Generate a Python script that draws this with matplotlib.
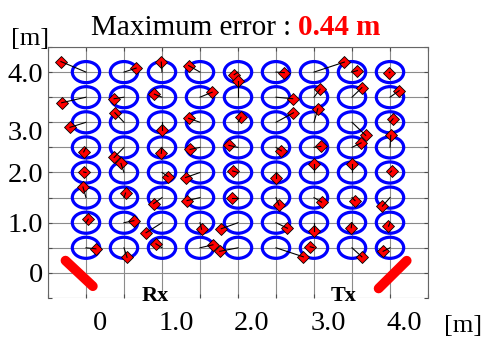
import numpy as np
import matplotlib
matplotlib.use('Agg')
import matplotlib.pyplot as plt
from matplotlib.patches import Ellipse
from matplotlib.transforms import ScaledTranslation

plt.rcParams['font.family'] = 'serif'
plt.rcParams['font.serif'] = ['Liberation Serif', 'Times New Roman', 'DejaVu Serif']

# reference grid (true positions), columns along x and rows along y [m]
grid_x = [0.0, 0.5, 1.0, 1.5, 2.0, 2.5, 3.0, 3.5, 4.0]
grid_y = [4.0, 3.5, 3.0, 2.5, 2.0, 1.5, 1.0, 0.5]

# estimated positions, one list per row (top row first), left to right
est_x = [
    [-0.33, 0.66, 0.99, 1.35, 1.95, 2.61, 3.40, 3.57, 3.99],
    [-0.32, 0.37, 0.90, 1.66, 2.00, 2.72, 3.08, 3.63, 4.12],
    [-0.21, 0.38, 1.00, 1.35, 2.04, 2.73, 3.05, 3.68, 4.04],
    [-0.03, 0.37, 0.99, 1.37, 1.88, 2.57, 3.09, 3.62, 4.01],
    [-0.03, 0.46, 1.08, 1.31, 1.93, 2.50, 3.00, 3.50, 4.02],
    [-0.04, 0.52, 0.89, 1.33, 1.92, 2.54, 3.10, 3.54, 3.90],
    [0.03, 0.63, 0.79, 1.52, 1.78, 2.65, 3.00, 3.49, 3.98],
    [0.13, 0.54, 0.92, 1.67, 1.76, 2.86, 2.95, 3.63, 3.91],
]
est_y = [
    [4.21, 4.08, 4.20, 4.13, 3.95, 3.99, 4.20, 4.03, 3.99],
    [3.39, 3.47, 3.56, 3.60, 3.83, 3.47, 3.66, 3.69, 3.63],
    [2.90, 3.19, 2.85, 3.08, 3.10, 3.19, 3.27, 2.74, 3.07],
    [2.41, 2.30, 2.38, 2.46, 2.54, 2.43, 2.52, 2.59, 2.74],
    [2.01, 2.18, 1.92, 1.90, 2.03, 1.90, 2.17, 2.17, 2.03],
    [1.71, 1.59, 1.38, 1.44, 1.50, 1.35, 1.41, 1.44, 1.33],
    [1.07, 1.04, 0.80, 0.87, 0.88, 0.89, 0.84, 0.90, 0.93],
    [0.48, 0.31, 0.58, 0.56, 0.43, 0.32, 0.52, 0.32, 0.43],
]

# antennas (Rx left, Tx right) as line segments
rx_x = [-0.27, 0.09]
rx_y = [0.245, -0.265]
tx_x = [4.22, 3.85]
tx_y = [0.243, -0.31]

max_err = 0.44

fig = plt.figure(figsize=(4.82, 3.37), dpi=100)
ax = fig.add_axes([48/482, 1-298/337, 380/482, 251/337])

for i, gy in enumerate(grid_y):
    for j, gx in enumerate(grid_x):
        ax.add_patch(Ellipse((gx, gy), 0.36, 0.42, fill=False, ec='#0000ff', lw=2.3, zorder=2))
        ax.plot(est_x[i][j], est_y[i][j], 'D', ms=5.8, mfc='red', mec='k', mew=0.6, zorder=4)
        # error line is drawn over the marker, as in the original
        ax.plot([gx, est_x[i][j]], [gy, est_y[i][j]], color='k', lw=0.8, zorder=5)

ax.plot(rx_x, rx_y, color='red', lw=7, solid_capstyle='round', zorder=3)
ax.plot(tx_x, tx_y, color='red', lw=7, solid_capstyle='round', zorder=3)
ax.text(0.91, -0.56, 'Rx', fontsize=16, fontweight='bold', ha='center', va='baseline', clip_on=False)
ax.text(3.39, -0.56, 'Tx', fontsize=16, fontweight='bold', ha='center', va='baseline', clip_on=False)

ax.set_xlim(-0.5, 4.5)
ax.set_ylim(-0.5, 4.5)
ticks = np.arange(-0.5, 4.51, 0.5)
tick_lab = []
for t in ticks:
    if abs(t) < 1e-9:
        tick_lab.append('0')
    elif abs(t - round(t)) < 1e-9 and t > 0:
        tick_lab.append('%.1f' % t)
    else:
        tick_lab.append('')
ax.set_xticks(ticks)
ax.set_xticklabels(tick_lab)
ax.set_yticks(ticks)
ax.set_yticklabels(tick_lab)
ax.grid(True, color='0.55', lw=0.8)
ax.set_axisbelow(True)
ax.tick_params(direction='in', top=True, right=True, length=3, width=0.8, color='0.3')
ax.tick_params(axis='x', labelsize=20.5, pad=9)
ax.tick_params(axis='y', labelsize=20.5, pad=3.6)
for s in ['top', 'left', 'right']:
    ax.spines[s].set_color('0.4')
    ax.spines[s].set_linewidth(0.8)
ax.spines['bottom'].set_visible(False)

# the labels in the original sit a little off their grid lines
for lab in ax.get_xticklabels():
    lab.set_transform(lab.get_transform() + ScaledTranslation(0.14, 0, fig.dpi_scale_trans))
for lab in ax.get_yticklabels():
    if lab.get_text() == '3.0':
        lab.set_transform(lab.get_transform() + ScaledTranslation(0, -0.08, fig.dpi_scale_trans))

fig.text(30/482, 1-39/337, '[m]', fontsize=19, ha='center', va='center')
fig.text(463/482, 1-326/337, '[m]', fontsize=19, ha='center', va='center')

t1 = fig.text(91/482, 1-35/337, 'Maximum error : ', fontsize=21, va='baseline', ha='left')
fig.canvas.draw()
bb = t1.get_window_extent()
fig.text(bb.x1/fig.bbox.width, 1-35/337, '%.2f m' % max_err, fontsize=21, va='baseline',
         ha='left', color='red', fontweight='bold')

fig.savefig('out.png', dpi=100)
